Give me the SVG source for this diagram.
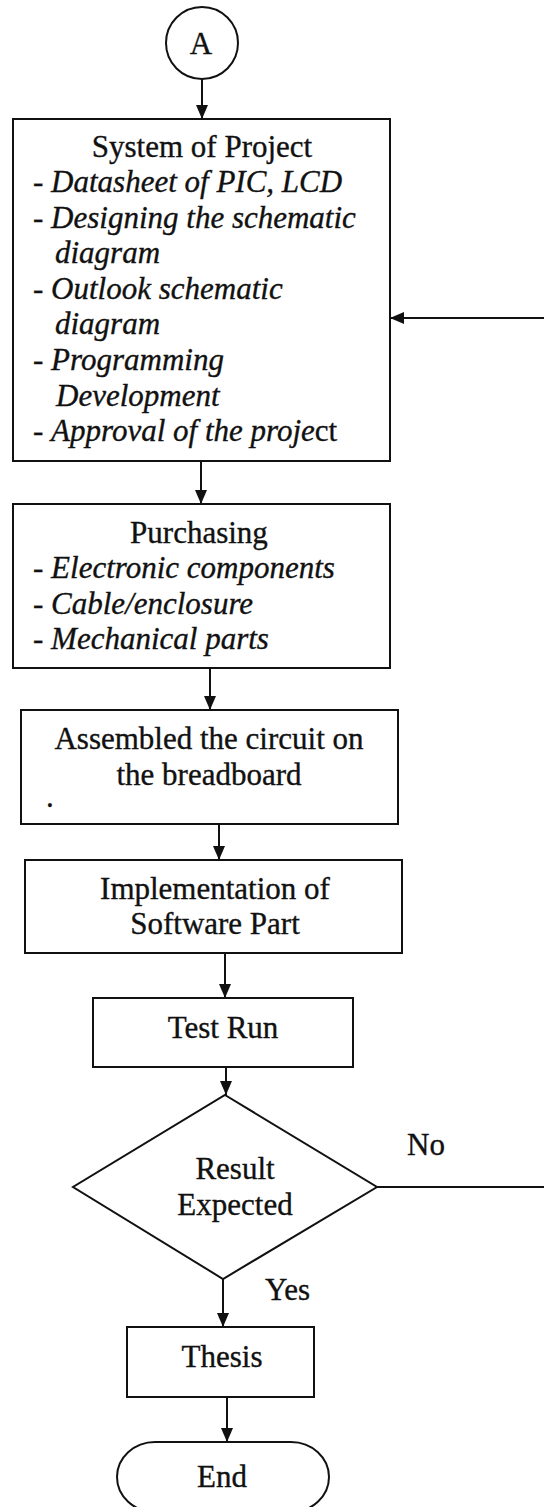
<svg xmlns="http://www.w3.org/2000/svg" width="544" height="1507" viewBox="0 0 544 1507">
  <style>
    .shape { fill: #ffffff; stroke: #111111; stroke-width: 2; }
    .edge { fill: none; stroke: #111111; stroke-width: 2; }
    .t { font-family: "Liberation Serif", "Times New Roman", serif; font-size: 31px; fill: #111111; stroke: #111111; stroke-width: 0.35; }
    .c { text-anchor: middle; }
    .i { font-style: italic; }
  </style>
  <defs>
    <marker id="arrow" viewBox="0 0 14 12" refX="14" refY="6" markerWidth="14" markerHeight="12" markerUnits="userSpaceOnUse" orient="auto">
      <path d="M0,0 L14,6 L0,12 z" fill="#111111"/>
    </marker>
  </defs>
  <rect width="544" height="1507" fill="#ffffff"/>

  <!-- connectors -->
  <g id="connectors">
    <line class="edge" x1="202" y1="79" x2="202" y2="119" marker-end="url(#arrow)"/>
    <line class="edge" x1="201" y1="461" x2="201" y2="504" marker-end="url(#arrow)"/>
    <line class="edge" x1="210" y1="668" x2="210" y2="710" marker-end="url(#arrow)"/>
    <line class="edge" x1="219" y1="824" x2="219" y2="860" marker-end="url(#arrow)"/>
    <line class="edge" x1="225" y1="953" x2="225" y2="998" marker-end="url(#arrow)"/>
    <line class="edge" x1="226" y1="1067" x2="226" y2="1095" marker-end="url(#arrow)"/>
    <line class="edge" x1="223" y1="1279" x2="223" y2="1327" marker-end="url(#arrow)"/>
    <line class="edge" x1="227" y1="1397" x2="227" y2="1442" marker-end="url(#arrow)"/>
    <!-- "No" branch leaves to the right; loop-back enters the first box -->
    <line class="edge" x1="377" y1="1187" x2="544" y2="1187"/>
    <line class="edge" x1="544" y1="318" x2="390" y2="318" marker-end="url(#arrow)"/>
    <text class="t" x="407" y="1155">No</text>
    <text class="t" x="265" y="1300">Yes</text>
  </g>

  <g id="start-a">
    <circle class="shape" cx="202" cy="43" r="36"/>
    <text class="t c" x="201" y="54">A</text>
  </g>

  <g id="system-of-project">
    <rect class="shape" x="13" y="119" width="377" height="342"/>
    <text class="t c" x="202" y="157">System of Project</text>
    <text class="t" x="33" y="192">- <tspan class="i">Datasheet of PIC, LCD</tspan></text>
    <text class="t" x="33" y="228">- <tspan class="i">Designing the schematic</tspan></text>
    <text class="t i" x="55" y="263">diagram</text>
    <text class="t" x="33" y="299">- <tspan class="i">Outlook schematic</tspan></text>
    <text class="t i" x="55" y="334">diagram</text>
    <text class="t" x="33" y="370">- <tspan class="i">Programming</tspan></text>
    <text class="t i" x="56" y="406">Development</text>
    <text class="t" x="33" y="441">- <tspan class="i">Approval of the proje</tspan>ct</text>
  </g>

  <g id="purchasing">
    <rect class="shape" x="13" y="504" width="377" height="164"/>
    <text class="t c" x="199" y="543">Purchasing</text>
    <text class="t" x="33" y="578">- <tspan class="i">Electronic components</tspan></text>
    <text class="t" x="33" y="614">- <tspan class="i">Cable/enclosure</tspan></text>
    <text class="t" x="33" y="649">- <tspan class="i">Mechanical parts</tspan></text>
  </g>

  <g id="assemble">
    <rect class="shape" x="21" y="710" width="377" height="114"/>
    <text class="t c" x="209" y="749">Assembled the circuit on</text>
    <text class="t c" x="209" y="785">the breadboard</text>
    <text class="t" x="46" y="807" font-size="20">.</text>
  </g>

  <g id="software">
    <rect class="shape" x="25" y="860" width="377" height="93"/>
    <text class="t c" x="215" y="899">Implementation of</text>
    <text class="t c" x="215" y="934">Software Part</text>
  </g>

  <g id="test-run">
    <rect class="shape" x="93" y="998" width="260" height="69"/>
    <text class="t c" x="223" y="1038">Test Run</text>
  </g>

  <g id="result-expected">
    <polygon class="shape" points="225,1095 377,1187 223,1279 73,1187"/>
    <text class="t c" x="235" y="1179">Result</text>
    <text class="t c" x="235" y="1215">Expected</text>
  </g>

  <g id="thesis">
    <rect class="shape" x="127" y="1327" width="187" height="70"/>
    <text class="t c" x="222" y="1367">Thesis</text>
  </g>

  <g id="end">
    <rect class="shape" x="117" y="1442" width="212" height="70" rx="38" ry="35"/>
    <text class="t c" x="222" y="1487">End</text>
  </g>
</svg>
